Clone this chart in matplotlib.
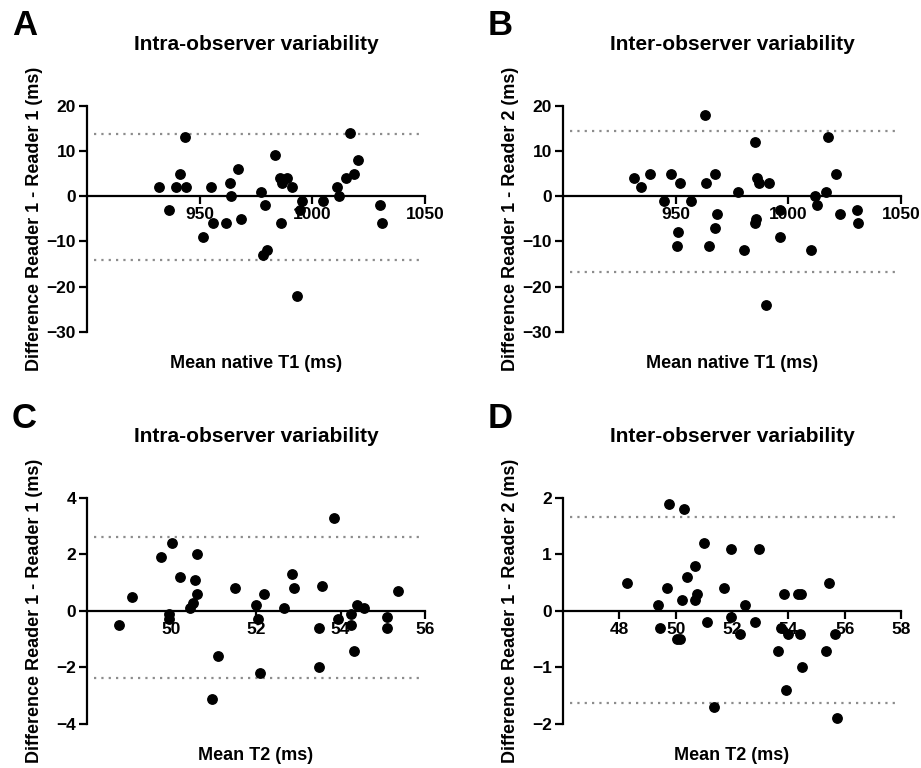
import matplotlib.pyplot as plt

plt.rcParams['font.family'] = ['Liberation Sans', 'DejaVu Sans']
plt.rcParams['font.weight'] = 'bold'

# Panel A - native T1, intra-observer
a_mean = [931.8, 936.2, 939.6, 941.4, 943.3, 944.1, 951.3, 954.9, 955.8, 961.7,
          963.3, 963.8, 967.0, 968.4, 977.4, 978.9, 978.1, 979.9, 983.5, 985.6,
          986.3, 985.9, 988.8, 990.9, 994.3, 995.5, 993.0, 1004.5, 1011.0, 1011.9,
          1014.9, 1016.8, 1018.6, 1020.1, 1030.1, 1030.9]
a_diff = [2, -3, 2, 5, 13, 2, -9, 2, -6, -6,
          3, 0, 6, -5, 1, -2, -13, -12, 9, 4,
          3, -6, 4, 2, -3, -1, -22, -1, 2, 0,
          4, 14, 5, 8, -2, -6]
a_loa = [13.85, -14.07]

# Panel B - native T1, inter-observer
b_mean = [931.5, 934.4, 938.8, 944.9, 948.1, 951.9, 951.2, 950.7, 956.9, 963.1,
          963.5, 964.9, 967.6, 968.4, 967.6, 977.8, 980.1, 985.3, 986.2, 986.8,
          985.7, 985.3, 991.6, 990.3, 996.5, 996.5, 1010.1, 1011.9, 1012.9, 1016.6,
          1017.4, 1021.3, 1023.1, 1030.6, 1031.0]
b_diff = [4, 2, 5, -1, 5, 3, -8, -11, -1, 18,
          3, -11, 5, -4, -7, 1, -12, 12, 4, 3,
          -5, -6, 3, -24, -3, -9, -12, 0, -2, 1,
          13, 5, -4, -3, -6]
b_loa = [14.5, -16.8]

# Panel C - T2, intra-observer
c_mean = [48.76, 49.06, 49.75, 50.0, 49.95, 49.95, 50.2, 50.44, 50.51, 50.56,
          50.6, 50.6, 50.95, 51.11, 51.5, 52.0, 52.05, 52.1, 52.2, 52.65,
          52.84, 52.91, 53.5, 53.5, 53.55, 53.85, 53.94, 54.25, 54.25, 54.31,
          54.39, 54.55, 55.09, 55.09, 55.35]
c_diff = [-0.5, 0.5, 1.9, 2.4, -0.1, -0.3, 1.2, 0.1, 0.3, 1.1,
          2.0, 0.6, -3.1, -1.6, 0.8, 0.2, -0.3, -2.2, 0.6, 0.1,
          1.3, 0.8, -0.6, -2.0, 0.9, 3.3, -0.3, -0.1, -0.5, -1.4,
          0.2, 0.1, -0.2, -0.6, 0.7]
c_loa = [2.62, -2.38]

# Panel D - T2, inter-observer
d_mean = [48.26, 49.36, 49.45, 49.7, 49.76, 50.04, 50.17, 50.21, 50.3, 50.41,
          50.7, 50.7, 50.75, 51.01, 51.12, 51.35, 51.7, 51.96, 51.96, 52.3,
          52.46, 52.82, 52.96, 53.64, 53.74, 53.84, 53.91, 54.0, 54.33, 54.45,
          54.42, 54.5, 55.34, 55.45, 55.67, 55.72]
d_diff = [0.5, 0.1, -0.3, 0.4, 1.9, -0.5, -0.5, 0.2, 1.8, 0.6,
          0.8, 0.2, 0.3, 1.2, -0.2, -1.7, 0.4, 1.1, -0.1, -0.4,
          0.1, -0.2, 1.1, -0.7, -0.3, 0.3, -1.4, -0.4, 0.3, 0.3,
          -0.4, -1.0, -0.7, 0.5, -0.4, -1.9]
d_loa = [1.67, -1.63]

panels = [
    ('A', 'Intra-observer variability', 'Difference Reader 1 - Reader 1 (ms)', 'Mean native T1 (ms)',
     a_mean, a_diff, a_loa, (900, 1050), [950, 1000, 1050], (-30, 20), [20, 10, 0, -10, -20, -30]),
    ('B', 'Inter-observer variability', 'Difference Reader 1 - Reader 2 (ms)', 'Mean native T1 (ms)',
     b_mean, b_diff, b_loa, (900, 1050), [950, 1000, 1050], (-30, 20), [20, 10, 0, -10, -20, -30]),
    ('C', 'Intra-observer variability', 'Difference Reader 1 - Reader 1 (ms)', 'Mean T2 (ms)',
     c_mean, c_diff, c_loa, (48, 56), [50, 52, 54, 56], (-4, 4), [4, 2, 0, -2, -4]),
    ('D', 'Inter-observer variability', 'Difference Reader 1 - Reader 2 (ms)', 'Mean T2 (ms)',
     d_mean, d_diff, d_loa, (46, 58), [48, 50, 52, 54, 56, 58], (-2, 2), [2, 1, 0, -1, -2]),
]

fig = plt.figure(figsize=(9.21, 7.68), dpi=100)
positions = [(0.0945, 0.568), (0.6113, 0.568), (0.0945, 0.0573), (0.6113, 0.0573)]

for (letter, title, ylab, xlab, xs, ys, loa, xlim, xticks, ylim, yticks), (l, b) in zip(panels, positions):
    ax = fig.add_axes([l, b, 0.367, 0.2943])
    # limits of agreement
    for v in loa:
        ax.axhline(v, xmin=0.02, xmax=0.985, color='#8c8c8c', lw=1.6,
                   linestyle=(0, (1, 2.3)), zorder=1)
    ax.scatter(xs, ys, s=46, color='black', zorder=3, clip_on=False)
    ax.set_xlim(*xlim)
    ax.set_ylim(*ylim)
    ax.set_xticks(xticks)
    ax.set_yticks(yticks)
    ax.spines['top'].set_visible(False)
    ax.spines['right'].set_visible(False)
    ax.spines['bottom'].set_position(('data', 0))
    for s in ['left', 'bottom']:
        ax.spines[s].set_linewidth(1.6)
    ax.tick_params(width=1.6, length=6, labelsize=12.5, pad=2)
    for t in ax.get_xticklabels() + ax.get_yticklabels():
        t.set_fontweight('bold')
    ax.text(0.5, 1.27, title, transform=ax.transAxes, ha='center', va='center',
            fontsize=15, fontweight='bold')
    ax.text(0.5, -0.14, xlab, transform=ax.transAxes, ha='center', va='center',
            fontsize=13, fontweight='bold')
    ax.text(-0.155, 0.5, ylab, transform=ax.transAxes, ha='center', va='center',
            rotation=90, fontsize=13, fontweight='bold')
    fig.text(l - 0.068, b + 0.2943 + 0.104, letter, ha='center', va='center',
             fontsize=25, fontweight='bold')

fig.savefig('out.png', dpi=100)
